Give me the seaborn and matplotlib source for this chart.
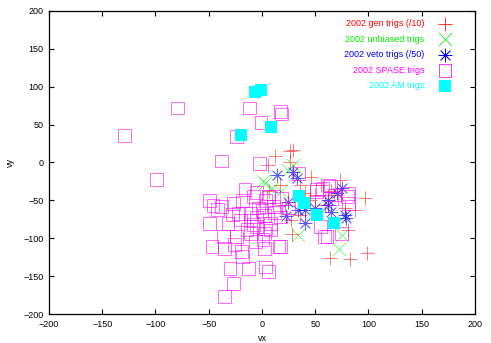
import matplotlib
matplotlib.use("Agg")
import pandas as pd
import seaborn as sns
from matplotlib import pyplot as plt

# 2002 gen trigs (/10)
gen_vx = [12, 26, 6, 26, 29, 46, 97, 99, 83, 64, 28, 36, 55, 73, 59, 22, 45, 78, 27, 36, 7, 17, 50, 68, 87, 81, 65, 40]
gen_vy = [8, 15, -3, 1, 16, -19, -47, -120, -128, -126, -95, -30, -30, -23, -56, -56, -50, -60, -76, -69, -37, -30, -43, -43, -63, -89, -38, -40]

# 2002 unbiased trigs
unb_vx = [1, 24, 9, 29, 3, 34, 75, 72, 18, 40]
unb_vy = [-25, -10, -34, -3, -27, -96, -96, -114, -38, -55]

# 2002 veto trigs (/50)
veto_vx = [14, 29, 75, 24, 62, 23, 40, 79, 65, 34, 62, 78, 40, 33, 50, 70]
veto_vy = [-17, -12, -34, -52, -56, -71, -80, -73, -65, -63, -50, -69, -63, -20, -60, -40]

# 2002 SPASE trigs
spase_vx = [-129, -79, -12, 17, 18, -1, -24, -38, -2, -99, -16, -5, -49, -46, -38, -27,
            -18, -8, 3, 11, 18, -28, -22, -11, -5, 0, 4, 11, -49, -32, -20, -11,
            -5, 3, 8, 17, -36, -24, -11, 2, 8, -47, -35, -19, 2, 16, -18, -30,
            -13, 3, 6, -27, -35, 34, 51, 64, 68, 80, 59, 51, 63, 81, 57, 61,
            55, 17, 81, 75, 65, 6, -3, -8, 2, -14, -42, 12, 25, -6, 1, -26]
spase_vy = [36, 72, 72, 67, 64, 53, 34, 2, -1, -22, -36, -40, -50, -57, -58, -54,
            -50, -45, -50, -45, -47, -69, -67, -67, -72, -63, -58, -58, -80, -80, -76, -76,
            -85, -87, -80, -72, -98, -98, -94, -94, -89, -111, -113, -117, -113, -111, -124, -140,
            -140, -138, -144, -160, -177, -14, -36, -31, -43, -45, -98, -38, -30, -41, -34, -98,
            -85, -111, -54, -94, -47, -45, -60, -82, -70, -88, -62, -66, -60, -104, -102, -108]

# 2002 AM trigs
am_vx = [-7, -1, 8, -20, 35, 39, 52, 68]
am_vy = [93, 96, 47, 36, -44, -54, -69, -80]

series = [
    ("2002 gen trigs (/10)", gen_vx, gen_vy, "+", "#ff0000"),
    ("2002 unbiased trigs", unb_vx, unb_vy, "x", "#00ee00"),
    ("2002 veto trigs (/50)", veto_vx, veto_vy, (8, 2, 0), "#0000ff"),
    ("2002 SPASE trigs", spase_vx, spase_vy, "s", "#ff00ff"),
    ("2002 AM trigs", am_vx, am_vy, "s", "#00ffff"),
]

plt.rcParams["font.family"] = ["Liberation Sans", "DejaVu Sans"]
fig = plt.figure(figsize=(4.91, 3.43), dpi=100)
ax = fig.add_axes([0.0998, 0.0845, 0.8676, 0.8835])

for name, vx, vy, mk, col in series:
    df = pd.DataFrame({"vx": vx, "vy": vy})
    if name == "2002 SPASE trigs":
        sns.scatterplot(data=df, x="vx", y="vy", marker=mk, s=85, color=col,
                        linewidth=0.55, ax=ax, label=name, alpha=0.75)
        ax.collections[-1].set_facecolor("none")
        ax.collections[-1].set_edgecolor(col)
    elif name == "2002 AM trigs":
        sns.scatterplot(data=df, x="vx", y="vy", marker=mk, s=85, color=col,
                        linewidth=0, ax=ax, label=name)
    else:
        sns.scatterplot(data=df, x="vx", y="vy", marker=mk, s=88, color=col,
                        linewidth=0.55, ax=ax, label=name, alpha=0.65)

ax.set_xlim(-200, 200)
ax.set_ylim(-200, 200)
ax.set_xticks(range(-200, 201, 50))
ax.set_yticks(range(-200, 201, 50))
ax.tick_params(direction="in", top=True, right=True, length=3.5, width=0.8,
               labelsize=6.5, pad=4)
for sp in ax.spines.values():
    sp.set_linewidth(0.9)
ax.set_xlabel("vx", fontsize=6.5, labelpad=4)
ax.set_ylabel("vy", fontsize=6.5, labelpad=6)

leg = ax.legend(loc="upper right", markerfirst=False, frameon=False, fontsize=6.5,
                handletextpad=1.3, labelspacing=0.72, borderaxespad=0.5,
                bbox_to_anchor=(0.97, 1.0))
for txt, (name, vx, vy, mk, col) in zip(leg.get_texts(), series):
    txt.set_color(col)
for h in leg.legend_handles:
    h.set_alpha(1)

fig.savefig("out.png", dpi=100)
